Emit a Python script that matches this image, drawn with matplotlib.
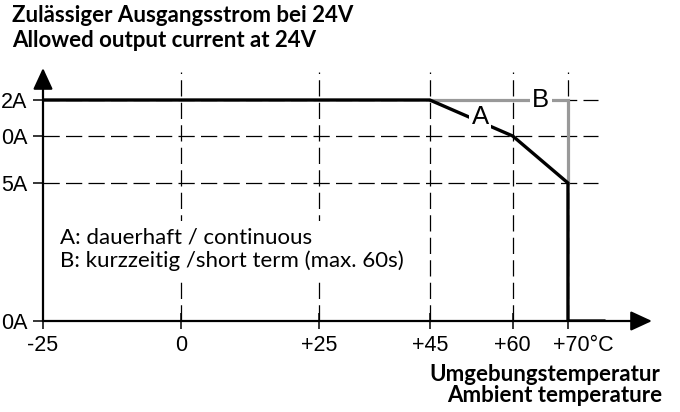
import numpy as np
import matplotlib.pyplot as plt
from matplotlib.transforms import ScaledTranslation

# temperatures (°C) on the x axis
temp_ticks = [-25, 0, 25, 45, 60, 70]
temp_labels = ['-25', '0', '+25', '+45', '+60', '+70°C']

# current levels on the y axis (schematic, non-linear); labels as visible in the source
curr_ticks = [0, 5, 10, 12]
curr_labels = ['0A', '5A', '0A', '2A']

# curve A: continuous
temp_A = [-25, 45, 60, 70, 70, 76.5]
curr_A = [12, 12, 10, 5, 0, 0]

# curve B: short term
temp_B = [45, 70, 70]
curr_B = [12, 12, 5]

# piecewise y scale (drawing height per current level)
scale_curr = [0, 5, 10, 12, 14]
scale_h = [0, 138, 185, 221, 257]

def fwd(y):
    return np.interp(y, scale_curr, scale_h)

def inv(h):
    return np.interp(h, scale_h, scale_curr)

W, H = 680, 412
fig = plt.figure(figsize=(W / 100, H / 100), dpi=100)
ax = fig.add_axes([43 / W, (H - 321) / H, (652 - 43) / W, (321 - 68) / H])
ax.set_yscale('function', functions=(fwd, inv))
ax.set_xlim(-25, -25 + 609 / 5.526)
ax.set_ylim(0, inv(253))
for s in ax.spines.values():
    s.set_visible(False)

tick_font = dict(family=['Liberation Sans', 'DejaVu Sans'], size=15.5)
ax.set_xticks(temp_ticks)
ax.set_xticklabels(temp_labels, **tick_font)
ax.set_yticks(curr_ticks)
ax.set_yticklabels(curr_labels, **tick_font)
ax.tick_params(axis='x', direction='inout', length=12, width=1.1, pad=4)
ax.tick_params(axis='y', direction='out', length=7, width=1.1, pad=4)
ax.yaxis.set_minor_locator(plt.NullLocator())
# shift the last label so "+70" sits under its tick
lab = ax.get_xticklabels()[-1]
lab.set_transform(lab.get_transform() + ScaledTranslation(15 / 100, 0, fig.dpi_scale_trans))

# dashed grid
grid_kw = dict(color='black', lw=0.9, dashes=(13, 5), zorder=1)
grid_top = inv(249)
grid_right = -25 + 555 / 5.526
for t in temp_ticks[1:]:
    ax.plot([t, t], [0, grid_top], **grid_kw)
for c in curr_ticks[1:]:
    ax.plot([-25, grid_right], [c, c], **grid_kw)

# axes with arrows
arrow_kw = dict(arrowstyle='-|>,head_length=0.65,head_width=0.3', lw=1.6, color='black',
                shrinkA=0, shrinkB=0, mutation_scale=20)
ax.annotate('', xy=(1, 0), xytext=(0, 0), xycoords='axes fraction',
            arrowprops=arrow_kw, annotation_clip=False, zorder=5)
ax.annotate('', xy=(0, 1), xytext=(0, 0), xycoords='axes fraction',
            arrowprops=arrow_kw, annotation_clip=False, zorder=5)

ax.plot(temp_B, curr_B, color='#999999', lw=2.3, zorder=2, solid_joinstyle='miter')
ax.plot(temp_A, curr_A, color='black', lw=2.4, zorder=3, solid_joinstyle='miter')

lab_font = dict(family=['Liberation Sans', 'DejaVu Sans'], size=18.5)
ax.text(54.1, 11.06, 'A', ha='center', va='center', zorder=4,
        bbox=dict(facecolor='white', edgecolor='none', pad=1.5), **lab_font)
ax.text(65.1, 12.0, 'B', ha='center', va='center', zorder=4,
        bbox=dict(facecolor='white', edgecolor='none', pad=1.5), **lab_font)

cal = ['Lato', 'DejaVu Sans']
fig.text(60 / W, 1 - 267 / H,
         'A: dauerhaft / continuous\nB: kurzzeitig /short term (max. 60s)',
         ha='left', va='baseline', fontsize=16, family=cal, linespacing=1.15,
         bbox=dict(facecolor='white', edgecolor='none', pad=5))

bold = dict(fontsize=16, fontweight='bold', family=cal)
fig.text(12 / W, 1 - 22 / H, 'Zulässiger Ausgangsstrom bei 24V', ha='left', va='baseline', **bold)
fig.text(12 / W, 1 - 47 / H, 'Allowed output current at 24V', ha='left', va='baseline', **bold)
fig.text(660 / W, 1 - 381 / H, 'Umgebungstemperatur', ha='right', va='baseline', **bold)
fig.text(662 / W, 1 - 402 / H, 'Ambient temperature', ha='right', va='baseline', **bold)

fig.savefig('out.png', dpi=100)
